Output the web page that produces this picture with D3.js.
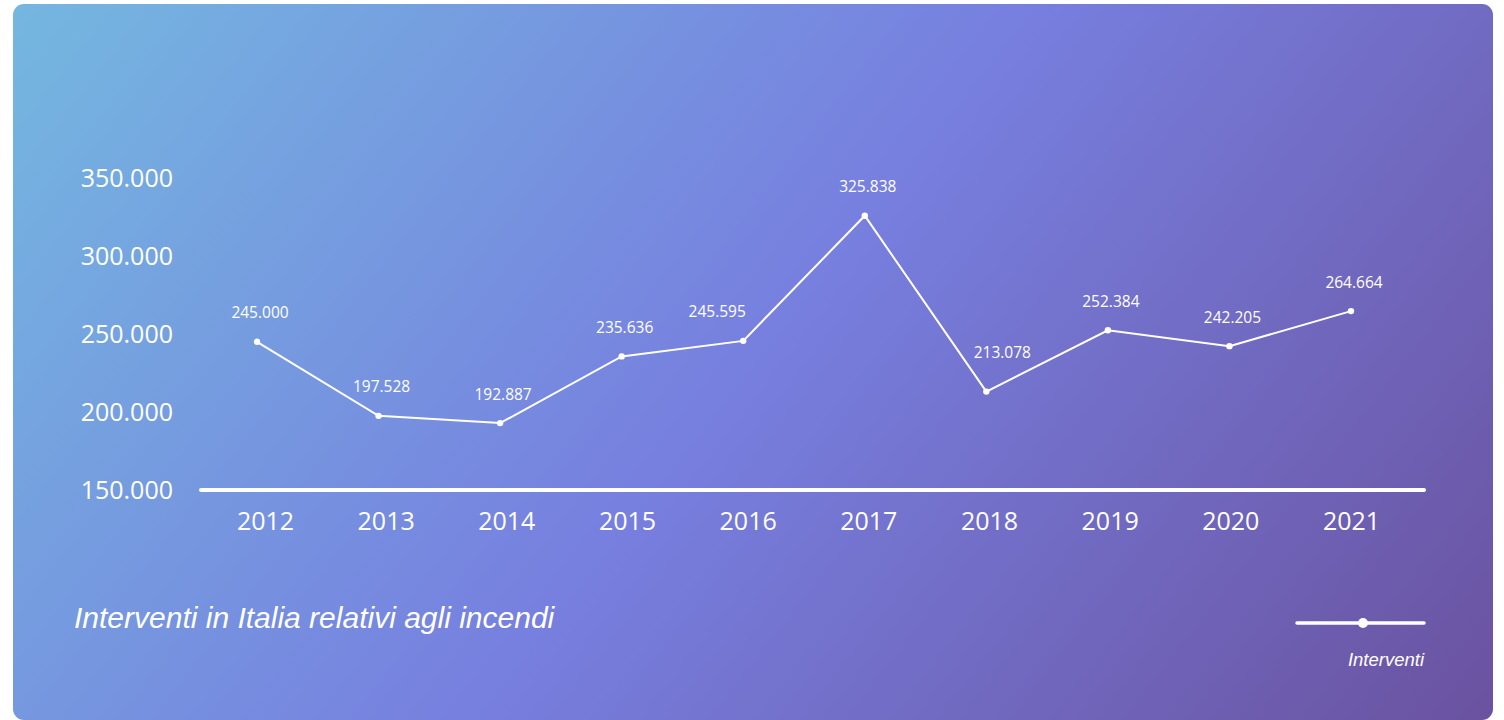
<!DOCTYPE html>
<html>
<head>
<meta charset="utf-8">
<script src="https://cdn.jsdelivr.net/npm/d3@7"></script>
<style>
  body { margin: 0; background: #fff; }
  svg { display: block; }
</style>
</head>
<body>
<div id="chart"></div>
<script>
// values
const years = ["2012", "2013", "2014", "2015", "2016", "2017", "2018", "2019", "2020", "2021"];
const interventi = [245000, 197528, 192887, 235636, 245595, 325838, 213078, 252384, 242205, 264664];
const yTicks = [150000, 200000, 250000, 300000, 350000];
const titleText = "Interventi in Italia relativi agli incendi";
const seriesName = "Interventi";

const W = 1504, H = 720;

// italian number format: 245.000
const fmt = d3.formatLocale({ decimal: ",", thousands: ".", grouping: [3], currency: ["€", ""] }).format(",d");

const svg = d3.select("#chart").append("svg")
  .attr("width", W)
  .attr("height", H);

// background card with diagonal gradient
const grad = svg.append("defs").append("linearGradient")
  .attr("id", "bg")
  .attr("gradientUnits", "userSpaceOnUse")
  .attr("x1", 100).attr("y1", -150)
  .attr("x2", 1400).attr("y2", 870);
grad.append("stop").attr("offset", "0%").attr("stop-color", "#74b9e0");
grad.append("stop").attr("offset", "50%").attr("stop-color", "#777fdf");
grad.append("stop").attr("offset", "100%").attr("stop-color", "#6a519e");

svg.append("rect")
  .attr("x", 13).attr("y", 4)
  .attr("width", 1480).attr("height", 716)
  .attr("rx", 11)
  .attr("fill", "url(#bg)");

// scales
const x = d3.scalePoint().domain(years).range([257, 1351]);
const xLabels = d3.scalePoint().domain(years).range([265, 1351]);
const y = d3.scaleLinear().domain([150000, 350000]).range([490, 178]);

// y axis labels
svg.append("g")
  .selectAll("text")
  .data(yTicks)
  .join("text")
  .attr("x", 173)
  .attr("y", d => y(d))
  .attr("dy", "0.35em")
  .attr("text-anchor", "end")
  .attr("fill", "#fff")
  .style("font-family", "'Open Sans', sans-serif")
  .style("font-size", "25px")
  .text(d => fmt(d));

// baseline
svg.append("line")
  .attr("x1", 201).attr("x2", 1424)
  .attr("y1", y(150000)).attr("y2", y(150000))
  .attr("stroke", "#fff")
  .attr("stroke-width", 4)
  .attr("stroke-linecap", "round");

// x axis labels through d3 axis
const xAxis = svg.append("g")
  .attr("transform", `translate(0,${y(150000)})`)
  .call(d3.axisBottom(xLabels).tickSize(0).tickPadding(22));
xAxis.select(".domain").remove();
xAxis.selectAll("text")
  .attr("fill", "#fff")
  .style("font-family", "'Open Sans', sans-serif")
  .style("font-size", "25px");

// line
const line = d3.line()
  .x((d, i) => x(years[i]))
  .y(d => y(d));

svg.append("path")
  .datum(interventi)
  .attr("d", line)
  .attr("fill", "none")
  .attr("stroke", "#fff")
  .attr("stroke-width", 2);

svg.append("g")
  .selectAll("circle")
  .data(interventi)
  .join("circle")
  .attr("cx", (d, i) => x(years[i]))
  .attr("cy", d => y(d))
  .attr("r", 3.2)
  .attr("fill", "#fff");

// value labels - try a few spots, keep the first one the line doesn't cross
const pts = interventi.map((d, i) => [x(years[i]), y(d)]);
const candidates = [[3, -29], [-26, -29], [16, -39]];
const labelW = 58, labelH = 16;

function segHitsBox(p, q, bx0, by0, bx1, by1) {
  // sample along the segment, good enough here
  for (let t = 0; t <= 1; t += 0.01) {
    const sx = p[0] + (q[0] - p[0]) * t;
    const sy = p[1] + (q[1] - p[1]) * t;
    if (sx >= bx0 && sx <= bx1 && sy >= by0 && sy <= by1) return true;
  }
  return false;
}

function labelPos(i) {
  const [px, py] = pts[i];
  for (const [dx, dy] of candidates) {
    const cx = px + dx, cy = py + dy;
    const bx0 = cx - labelW / 2, bx1 = cx + labelW / 2;
    const by0 = cy - labelH / 2, by1 = cy + labelH / 2;
    let hit = false;
    for (let j = 0; j < pts.length - 1; j++) {
      if (segHitsBox(pts[j], pts[j + 1], bx0, by0, bx1, by1)) hit = true;
    }
    if (!hit) return [cx, cy];
  }
  return [px + candidates[0][0], py + candidates[0][1]];
}

svg.append("g")
  .selectAll("text")
  .data(interventi)
  .join("text")
  .each(function (d, i) {
    const [lx, ly] = labelPos(i);
    d3.select(this).attr("x", lx).attr("y", ly);
  })
  .attr("dy", "0.35em")
  .attr("text-anchor", "middle")
  .attr("fill", "#fff")
  .style("font-family", "'Open Sans', sans-serif")
  .style("font-size", "15.5px")
  .text(d => fmt(d));

// title
svg.append("text")
  .attr("x", 74)
  .attr("y", 617)
  .attr("dy", "0.35em")
  .attr("fill", "#fff")
  .style("font-family", "'Liberation Sans', Arial, sans-serif")
  .style("font-style", "italic")
  .style("font-size", "30px")
  .text(titleText);

// legend
const legend = svg.append("g");
legend.append("line")
  .attr("x1", 1297).attr("x2", 1424)
  .attr("y1", 623).attr("y2", 623)
  .attr("stroke", "#fff")
  .attr("stroke-width", 3.5)
  .attr("stroke-linecap", "round");
legend.append("circle")
  .attr("cx", 1363).attr("cy", 623)
  .attr("r", 5)
  .attr("fill", "#fff");
legend.append("text")
  .attr("x", 1424)
  .attr("y", 660)
  .attr("dy", "0.35em")
  .attr("text-anchor", "end")
  .attr("fill", "#fff")
  .style("font-family", "'Liberation Sans', Arial, sans-serif")
  .style("font-style", "italic")
  .style("font-size", "18.5px")
  .text(seriesName);
</script>
</body>
</html>
